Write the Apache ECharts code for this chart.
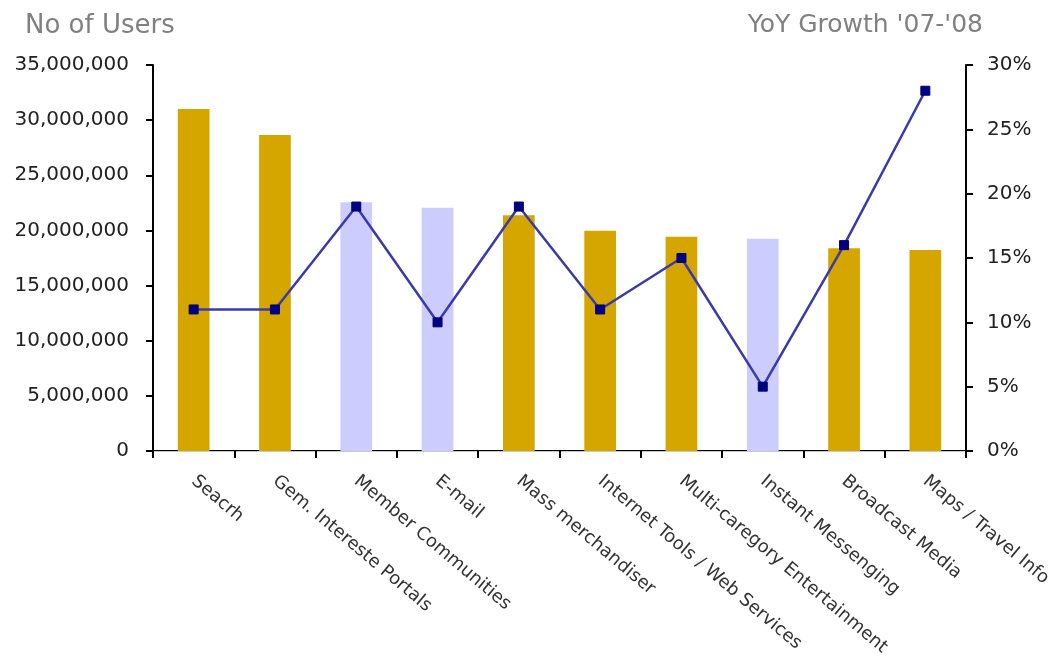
<!DOCTYPE html>
<html>
<head>
<meta charset="utf-8">
<title>No of Users / YoY Growth</title>
<script src="https://cdn.jsdelivr.net/npm/echarts@6/dist/echarts.min.js"></script>
<style>
  html, body { margin: 0; padding: 0; background: #ffffff; }
  #chart { width: 1061px; height: 662px; }
</style>
</head>
<body>
<div id="chart"></div>
<script>
// Site categories
var categories = [
  'Seacrh',
  'Gem. Intereste Portals',
  'Member Communities',
  'E-mail',
  'Mass merchandiser',
  'Internet Tools / Web Services',
  'Multi-caregory Entertainment',
  'Instant Messenging',
  'Broadcast Media',
  'Maps / Travel Info'
];

// Number of users per category
var users = [31000000, 28650000, 22550000, 22050000, 21370000, 19970000, 19430000, 19250000, 18380000, 18220000];

// Year-on-year growth '07-'08, in percent
var growth = [11, 11, 19, 10, 19, 11, 15, 5, 16, 28];

// Communication-type categories, drawn in the lighter bar colour
var communication = ['Member Communities', 'E-mail', 'Instant Messenging'];

// Axis ticks
var userTicks = { min: 0, max: 35000000, interval: 5000000 };
var growthTicks = { min: 0, max: 30, interval: 5 };

var FONT = 'DejaVu Sans';
var GOLD = '#D6A600';
var LAVENDER = '#CCCCFF';

var chart = echarts.init(document.getElementById('chart'), null, { renderer: 'canvas' });

var barData = users.map(function (v, i) {
  return {
    value: v,
    itemStyle: { color: communication.indexOf(categories[i]) >= 0 ? LAVENDER : GOLD }
  };
});

chart.setOption({
  animation: false,
  backgroundColor: '#ffffff',
  textStyle: { fontFamily: FONT },
  title: [
    {
      text: 'No of Users',
      left: 20, top: 8,
      textStyle: { fontFamily: FONT, fontSize: 26, fontWeight: 'normal', color: '#808080' }
    },
    {
      text: "YoY Growth '07-'08",
      right: 73, top: 8,
      textStyle: { fontFamily: FONT, fontSize: 25, fontWeight: 'normal', color: '#808080' }
    }
  ],
  grid: { left: 153, right: 95, top: 65, bottom: 211, containLabel: false },
  xAxis: [
    {
      type: 'category',
      data: categories,
      position: 'bottom',
      boundaryGap: true,
      axisLine: { lineStyle: { color: '#000000', width: 2 } },
      axisTick: { show: true, length: 7, lineStyle: { color: '#000000', width: 2 } },
      axisLabel: {
        interval: 0,
        rotate: -40,
        margin: 28,
        fontFamily: FONT,
        fontSize: 18,
        color: '#333333'
      },
      splitLine: { show: false }
    },
    {
      type: 'category',
      data: categories,
      position: 'top',
      axisLine: { lineStyle: { color: '#c8c8c8', width: 1 } },
      axisTick: { show: false },
      axisLabel: { show: false },
      splitLine: { show: false }
    }
  ],
  yAxis: [
    {
      type: 'value',
      position: 'left',
      min: userTicks.min,
      max: userTicks.max,
      interval: userTicks.interval,
      axisLine: { show: true, lineStyle: { color: '#000000', width: 2 } },
      axisTick: { show: true, length: 7, lineStyle: { color: '#000000', width: 2 } },
      axisLabel: {
        margin: 24,
        fontFamily: FONT,
        fontSize: 20,
        color: '#222222',
        formatter: function (v) { return v.toLocaleString('en-US'); }
      },
      splitLine: { show: false }
    },
    {
      type: 'value',
      position: 'right',
      min: growthTicks.min,
      max: growthTicks.max,
      interval: growthTicks.interval,
      axisLine: { show: true, lineStyle: { color: '#000000', width: 2 } },
      axisTick: { show: true, length: 7, lineStyle: { color: '#000000', width: 2 } },
      axisLabel: {
        margin: 21,
        fontFamily: FONT,
        fontSize: 20,
        color: '#222222',
        formatter: '{value}%'
      },
      splitLine: { show: false }
    }
  ],
  series: [
    {
      name: 'No of Users',
      type: 'bar',
      xAxisIndex: 0,
      yAxisIndex: 0,
      data: barData,
      barWidth: '39%',
      z: 2
    },
    {
      name: "YoY Growth '07-'08",
      type: 'line',
      xAxisIndex: 0,
      yAxisIndex: 1,
      data: growth,
      symbol: 'rect',
      symbolSize: 9,
      lineStyle: { color: '#3A3AAA', width: 2.5 },
      itemStyle: { color: '#000080', borderColor: '#000080' },
      z: 5
    }
  ]
});
</script>
</body>
</html>
